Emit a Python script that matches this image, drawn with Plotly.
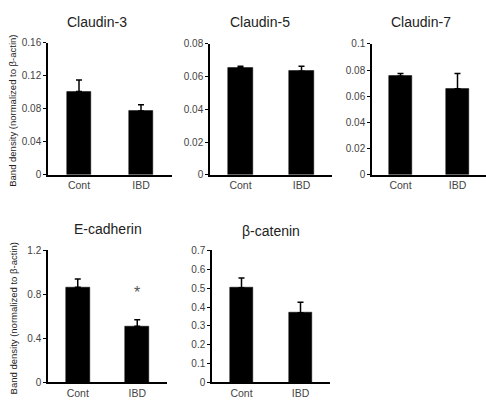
import plotly.graph_objects as go

W, H = 486, 402

categories = ["Cont", "IBD"]
panel_titles = ["Claudin-3", "Claudin-5", "Claudin-7", "E-cadherin", "β-catenin"]
claudin3 = [0.101, 0.0775]
claudin3_err = [0.014, 0.0075]
claudin5 = [0.0655, 0.0633]
claudin5_err = [0.0008, 0.0030]
claudin7 = [0.0752, 0.0658]
claudin7_err = [0.0022, 0.0115]
ecadherin = [0.865, 0.51]
ecadherin_err = [0.075, 0.06]
bcatenin = [0.502, 0.369]
bcatenin_err = [0.052, 0.056]
ymax = [0.16, 0.08, 0.1, 1.2, 0.7]
ytick_vals = [
    [0, 0.04, 0.08, 0.12, 0.16],
    [0, 0.02, 0.04, 0.06, 0.08],
    [0, 0.02, 0.04, 0.06, 0.08, 0.1],
    [0, 0.4, 0.8, 1.2],
    [0, 0.1, 0.2, 0.3, 0.4, 0.5, 0.6, 0.7],
]
ytick_text = [
    ["0", "0.04", "0.08", "0.12", "0.16"],
    ["0", "0.02", "0.04", "0.06", "0.08"],
    ["0", "0.02", "0.04", "0.06", "0.08", "0.1"],
    ["0", "0.4", "0.8", "1.2"],
    ["0", "0.1", "0.2", "0.3", "0.4", "0.5", "0.6", "0.7"],
]
ylabel = "Band density (normalized to β-actin)"

values = [claudin3, claudin5, claudin7, ecadherin, bcatenin]
errors = [claudin3_err, claudin5_err, claudin7_err, ecadherin_err, bcatenin_err]

# layout in pixels: (x0, x1, ytop, ybottom)
boxes = [
    (48, 172, 38, 174),
    (210, 332, 39, 174),
    (372, 486, 39, 174),
    (48, 167, 252, 388),
    (212, 330, 252, 388),
]
title_pos = [(97, 16), (260, 16), (421, 16), (108, 230), (271, 232)]

fig = go.Figure()
font = "Liberation Sans, Arial, sans-serif"

for i in range(5):
    x0, x1, yt, yb = boxes[i]
    xa = "xaxis" if i == 0 else f"xaxis{i+1}"
    ya = "yaxis" if i == 0 else f"yaxis{i+1}"
    xr = "x" if i == 0 else f"x{i+1}"
    yr = "y" if i == 0 else f"y{i+1}"
    fig.add_trace(go.Bar(
        x=categories, y=values[i], xaxis=xr, yaxis=yr,
        width=0.4, marker=dict(color="black", line=dict(color="black", width=0.5)),
        error_y=dict(type="data", symmetric=False, array=errors[i],
                     arrayminus=[0, 0], color="black", thickness=1.5, width=3),
        showlegend=False, hoverinfo="skip",
    ))
    fig.layout[xa] = dict(
        domain=[x0 / W, min(x1 / W, 1)], anchor=yr, range=[-0.5, 1.5],
        showline=True, linecolor="black", linewidth=1.5, ticks="",
        tickfont=dict(family=font, size=10.5, color="#444"), showgrid=False,
        zeroline=False, fixedrange=True,
    )
    fig.layout[ya] = dict(
        domain=[1 - yb / H, 1 - yt / H], anchor=xr, range=[0, ymax[i]],
        showline=True, linecolor="black", linewidth=1.5, ticks="outside",
        ticklen=3, tickcolor="black", tickwidth=1,
        tickvals=ytick_vals[i], ticktext=ytick_text[i],
        tickfont=dict(family=font, size=10, color="#444"), showgrid=False,
        zeroline=False, fixedrange=True,
    )
    tx, ty = title_pos[i]
    fig.add_annotation(x=tx / W, y=1 - ty / H, xref="paper", yref="paper",
                       text=panel_titles[i], showarrow=False,
                       font=dict(family=font, size=14, color="#222"),
                       xanchor="center", yanchor="middle")

for (x0, x1, yt, yb) in [boxes[0], boxes[3]]:
    fig.add_annotation(x=13 / W, y=1 - ((yt + yb) / 2 + 2) / H, xref="paper", yref="paper",
                       text=ylabel, showarrow=False, textangle=-90,
                       font=dict(family=font, size=9.5, color="#222"),
                       xanchor="center", yanchor="middle")

fig.add_annotation(x="IBD", y=0.82, xref="x4", yref="y4", text="*", showarrow=False,
                   font=dict(family=font, size=16, color="#555"),
                   xanchor="center", yanchor="middle")

fig.update_layout(width=W, height=H, margin=dict(l=0, r=0, t=0, b=0),
                  paper_bgcolor="white", plot_bgcolor="white", bargap=0)

fig.write_html("out.html", config={"displayModeBar": False},
               post_script="document.body.style.margin='0';document.body.style.overflow='hidden';")
